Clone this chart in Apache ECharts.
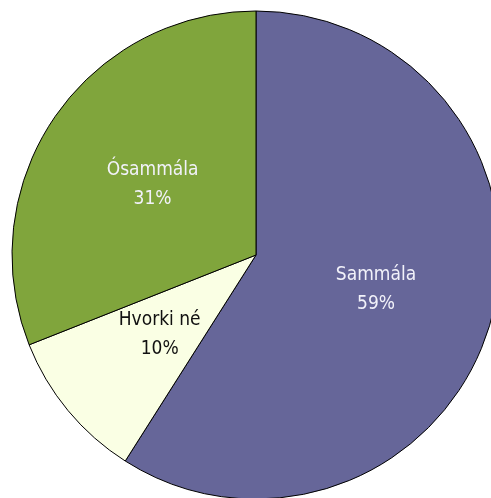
<!DOCTYPE html>
<html>
<head>
<meta charset="utf-8">
<script src="https://cdn.jsdelivr.net/npm/echarts@6/dist/echarts.min.js"></script>
<style>
html,body{margin:0;padding:0;background:#fff;}
#c{width:491px;height:498px;}
</style>
</head>
<body>
<div id="c"></div>
<script>
const categories = ['Sammála', 'Hvorki né', 'Ósammála'];
const values = [59, 10, 31];
const colors = ['#666699', '#FAFFE4', '#80A53C'];
const labelColors = ['#F2F2FA', '#111111', '#F2F2FA'];

const chart = echarts.init(document.getElementById('c'), null, {renderer: 'canvas'});
chart.setOption({
  animation: false,
  backgroundColor: '#ffffff',
  series: [{
    type: 'pie',
    center: [256, 255],
    radius: [0, 244],
    startAngle: 90,
    clockwise: true,
    avoidLabelOverlap: false,
    emphasis: {disabled: true},
    itemStyle: {borderColor: '#000000', borderWidth: 1},
    label: {
      show: true,
      position: 'inside',
      fontFamily: '"DejaVu Sans Condensed", "Liberation Sans", sans-serif',
      fontSize: 19,
      lineHeight: 29,
      formatter: p => p.name + '\n' + p.value + '%'
    },
    labelLine: {show: false},
    data: categories.map((c, i) => ({
      name: c,
      value: values[i],
      itemStyle: {color: colors[i]},
      label: {color: labelColors[i]}
    }))
  }]
});
</script>
</body>
</html>
